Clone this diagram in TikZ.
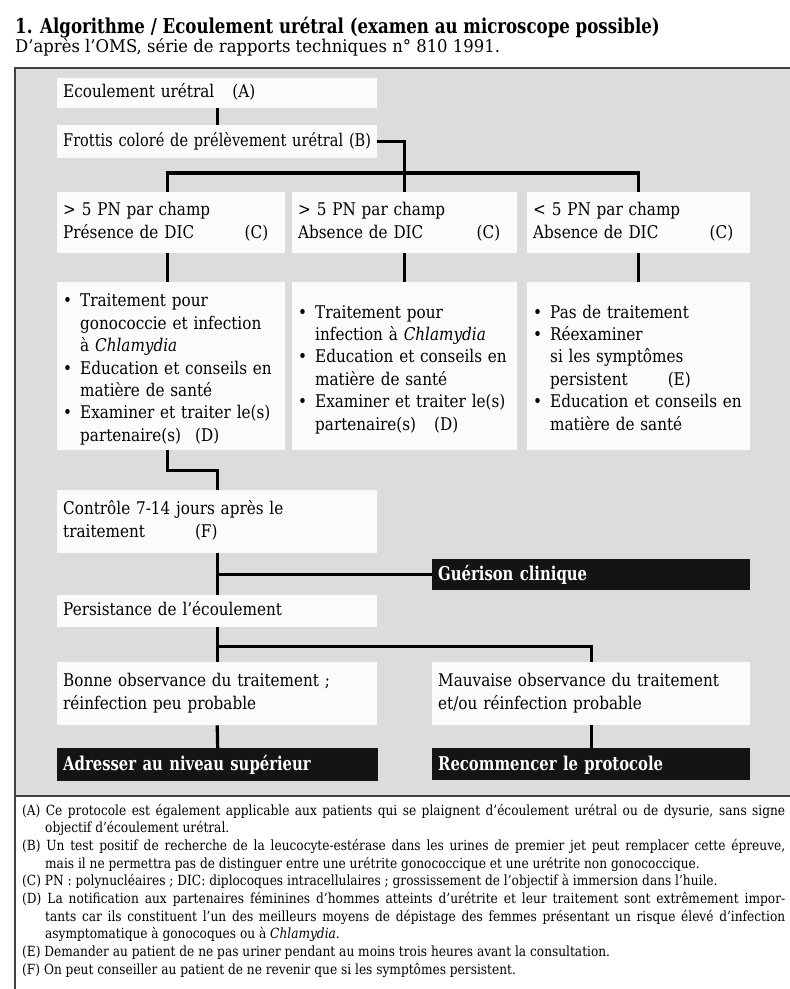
\documentclass[tikz,border=0pt]{standalone}
\usepackage{fontspec}
\setmainfont{DejaVu Serif}[FakeStretch=0.87]
\newfontfamily\headfam{DejaVu Serif}[FakeStretch=0.78]
\newfontfamily\titlefam{DejaVu Serif}[FakeStretch=0.81]
\newfontfamily\srcfam{DejaVu Serif}[FakeStretch=0.94]
\usetikzlibrary{positioning,calc}

\definecolor{scangray}{HTML}{DCDCDC}
\definecolor{paper}{HTML}{FBFBFB}
\definecolor{ink}{HTML}{141414}

\newcommand{\bodysize}{\fontsize{17.5}{22.4}\selectfont}
\newcommand{\bul}{\par\hangindent=17pt\hangafter=1\noindent\makebox[17pt][l]{\strut\textbullet}}

\tikzset{
  box/.style={fill=paper, anchor=north west, inner xsep=6pt, inner ysep=0pt, align=left,
    font=\bodysize, execute at begin node=\strut, execute at end node=\strut},
  listbox/.style={fill=paper, anchor=north west, inner xsep=6pt, inner ysep=0pt, align=left,
    font=\bodysize},
  blackbox/.style={fill=ink, text=white, anchor=north west, inner xsep=6pt, inner ysep=0pt,
    align=left, font=\headfam\bfseries\fontsize{19}{22}\selectfont, text height=13pt, text depth=1pt},
  link/.style={line width=3.2pt},
  frame/.style={line width=1.4pt, draw=black!75},
}

\begin{document}
\begin{tikzpicture}[x=1pt,y=-1pt]
	\useasboundingbox (0,0) rectangle (790,989);
	\fill[white] (0,0) rectangle (790,989);
	\fill[scangray] (15,68) rectangle (790,796);
	\draw[frame] (790,68) -- (15,68) -- (15,989);
	\draw[frame] (15,796) -- (790,796);

	\node[anchor=base west, inner sep=0pt, font=\titlefam\bfseries\fontsize{20.5}{24}\selectfont] (title) at (15,33)
		{1. Algorithme / Ecoulement urétral (examen au microscope possible)};
	\node[anchor=base west, inner sep=0pt, font=\srcfam\fontsize{17.5}{20}\selectfont] (source) at (15,52)
		{D’après l’OMS, série de rapports techniques n° 810 1991.};

	\node[box, text width=308pt, minimum height=30pt] (ecoul) at (57,78) {Ecoulement urétral\hspace{18pt}(A)};
	\node[box, text width=308pt, minimum height=33pt] (frot)  at (57,125)
		{\addfontfeatures{FakeStretch=0.83}Frottis coloré de prélèvement urétral (B)};

	\node[box, text width=216pt, minimum height=61pt] (hd1) at (57,192)
		{> 5 PN par champ\\Présence de DIC\hskip0pt plus1filll(C)\hspace*{11pt}};
	\node[box, text width=213pt, minimum height=61pt] (hd2) at (292,192)
		{> 5 PN par champ\\Absence de DIC\hskip0pt plus1filll(C)\hspace*{11pt}};
	\node[box, text width=211pt, minimum height=61pt] (hd3) at (527,192)
		{< 5 PN par champ\\Absence de DIC\hskip0pt plus1filll(C)\hspace*{11pt}};

	\node[listbox, text width=216pt, minimum height=168pt] (bd1) at (57,282)
		{\bul Traitement pour\newline gonococcie et infection\newline à \textit{Chlamydia}
		 \bul Education et conseils en\newline matière de santé
		 \bul Examiner et traiter le(s)\newline partenaire(s)\hspace{14pt}(D)\strut\par};
	\node[listbox, text width=213pt, minimum height=168pt] (bd2) at (292,282)
		{\bul Traitement pour\newline infection à \textit{Chlamydia}
		 \bul Education et conseils en\newline matière de santé
		 \bul Examiner et traiter le(s)\newline partenaire(s)\hspace{18pt}(D)\strut\par};
	\node[listbox, text width=211pt, minimum height=168pt] (bd3) at (527,282)
		{\bul Pas de traitement
		 \bul Réexaminer\newline si les symptômes\newline persistent\hspace{40pt}(E)
		 \bul Education et conseils en\newline matière de santé\strut\par};

	\node[box, text width=308pt, minimum height=63pt] (ctrl) at (57,490)
		{Contrôle 7-14 jours après le\\traitement\hspace{50pt}(F)};
	\node[blackbox, text width=306pt, minimum height=31pt] (guer) at (432,559) {Guérison clinique};
	\node[box, text width=308pt, minimum height=32pt] (pers) at (57,595) {Persistance de l’écoulement};

	\node[box, text width=308pt, minimum height=63pt] (bonne) at (57,662)
		{Bonne observance du traitement ;\\réinfection peu probable};
	\node[box, text width=306pt, minimum height=63pt] (mauv) at (432,662)
		{Mauvaise observance du traitement\\et/ou réinfection probable};
	\node[blackbox, text width=309pt, minimum height=33pt] (adr) at (57,748) {Adresser au niveau supérieur};
	\node[blackbox, text width=306pt, minimum height=32pt] (rec) at (432,748) {Recommencer le protocole};

	% connectors
	\draw[link] (ecoul.south) -- (frot.north);
	\draw[link] (frot.east) -| (hd2.north);
	\draw[link] ([xshift=-4pt]hd1.north) -- ++(0,-19) -| (hd3.north);
	\draw[link] ([xshift=-4pt]hd1.south) -- ([xshift=-4pt]bd1.north);
	\draw[link] (hd2.south) -- (bd2.north);
	\draw[link] (hd3.south) -- (bd3.north);
	\draw[link] ([xshift=-4pt]bd1.south) -- ++(0,20) -| (ctrl.north);
	\draw[link] (ctrl.south) -- (pers.north);
	\draw[link] (ctrl.south |- guer.west) -- (guer.west);
	\draw[link] (pers.south) -- (bonne.north);
	\draw[link] (pers.south) ++(0,19) -| (mauv.north);
	\draw[link] (bonne.south) -- (adr.north);
	\draw[link] (mauv.south) -- (rec.north);

	\node[anchor=base west, inner sep=0pt, text width=763pt, align=justify,
		font=\fontsize{14}{17.7}\selectfont] (notes) at (22,815)
		{\hyphenpenalty=10000\relax\exhyphenpenalty=10000\relax
		 \hangindent=23pt\hangafter=1 (A) Ce protocole est également applicable aux patients qui se plaignent d’écoulement urétral ou de dysurie, sans signe\linebreak objectif d’écoulement urétral.\par
		 \hangindent=23pt\hangafter=1 (B) Un test positif de recherche de la leucocyte-estérase dans les urines de premier jet peut remplacer cette épreuve,\linebreak mais il ne permettra pas de distinguer entre une urétrite gonococcique et une urétrite non gonococcique.\par
		 \hangindent=23pt\hangafter=1 (C) PN : polynucléaires ; DIC: diplocoques intracellulaires ; grossissement de l’objectif à immersion dans l’huile.\par
		 \hangindent=23pt\hangafter=1 (D) La notification aux partenaires féminines d’hommes atteints d’urétrite et leur traitement sont extrêmement impor-\linebreak tants car ils constituent l’un des meilleurs moyens de dépistage des femmes présentant un risque élevé d’infection\linebreak asymptomatique à gonocoques ou à \textit{Chlamydia}.\par
		 \hangindent=23pt\hangafter=1 (E) Demander au patient de ne pas uriner pendant au moins trois heures avant la consultation.\par
		 \hangindent=23pt\hangafter=1 (F) On peut conseiller au patient de ne revenir que si les symptômes persistent.\par};
\end{tikzpicture}
\end{document}
